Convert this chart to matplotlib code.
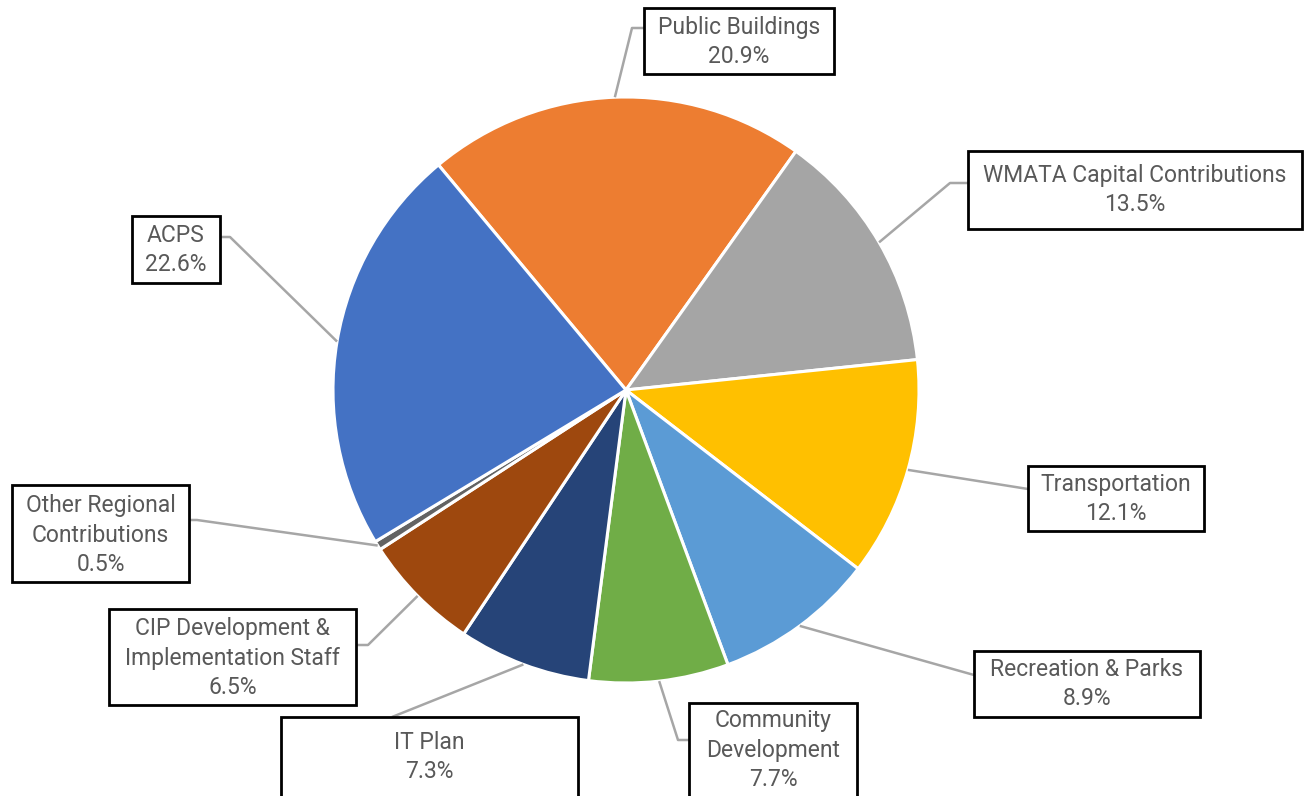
import matplotlib
matplotlib.use("Agg")
import matplotlib.pyplot as plt
from matplotlib.patches import Rectangle
from matplotlib import font_manager
import numpy as np

categories = ["Public Buildings", "WMATA Capital Contributions", "Transportation",
              "Recreation & Parks", "Community\nDevelopment", "IT Plan",
              "CIP Development &\nImplementation Staff", "Other Regional\nContributions", "ACPS"]
values = [20.9, 13.5, 12.1, 8.9, 7.7, 7.3, 6.5, 0.5, 22.6]
colors = ["#ED7D31", "#A5A5A5", "#FFC000", "#5B9BD5", "#70AD47",
          "#264478", "#9E480E", "#636363", "#4472C4"]

# label boxes in pixel coords (x0, y0_top, x1, y1_bottom) and leader elbow points
boxes = [(644, 8, 834, 74), (968, 151, 1302, 229), (1028, 466, 1204, 531),
         (974, 651, 1200, 717), (689, 703, 857, 800), (281, 717, 578, 800),
         (109, 609, 356, 705), (12, 485, 189, 582), (132, 216, 220, 283)]
elbows = [[(632, 28), (644, 28)], [(950, 183), (968, 183)], [(1028, 489)],
          [(974, 675)], [(678, 740), (689, 740)], [(392, 717)],
          [(368, 645), (356, 645)], [(197, 520), (189, 520)], [(230, 237), (220, 237)]]
text_centers_y = [42, 190, 499, 684, 750, 757, 658, 535, 250]

names = {f.name for f in font_manager.fontManager.ttflist}
fam = [f for f in ["Roboto", "DejaVu Sans"] if f in names]

W, H = 1311, 796
fig = plt.figure(figsize=(W / 100, H / 100), dpi=100)
ax = fig.add_axes([0, 0, 1, 1])

cx, cy, R = 626, H - 390, 293
wedges, _ = ax.pie(values, colors=colors, startangle=129.8, counterclock=False,
                   center=(cx, cy), radius=R, frame=True,
                   wedgeprops=dict(edgecolor="white", linewidth=2.2))
ax.set_xlim(0, W)
ax.set_ylim(0, H)
ax.axis("off")

for i, w in enumerate(wedges):
    mid = np.deg2rad((w.theta1 + w.theta2) / 2)
    p0 = (cx + R * np.cos(mid), cy + R * np.sin(mid))
    pts = [p0] + [(x, H - y) for x, y in elbows[i]]
    xs, ys = zip(*pts)
    ax.plot(xs, ys, color="#A6A6A6", lw=1.8, zorder=1, solid_capstyle="butt")
    x0, y0, x1, y1 = boxes[i]
    ax.add_patch(Rectangle((x0, H - y1), x1 - x0, y1 - y0, facecolor="white",
                           edgecolor="black", lw=2, zorder=3, clip_on=True))
    txt = categories[i] + "\n" + f"{values[i]:.1f}%"
    ax.text((x0 + x1) / 2, H - text_centers_y[i], txt, ha="center", va="center",
            fontsize=16.5, color="#595959", family=fam, linespacing=1.38, zorder=4)

fig.savefig("out.png", dpi=100)
